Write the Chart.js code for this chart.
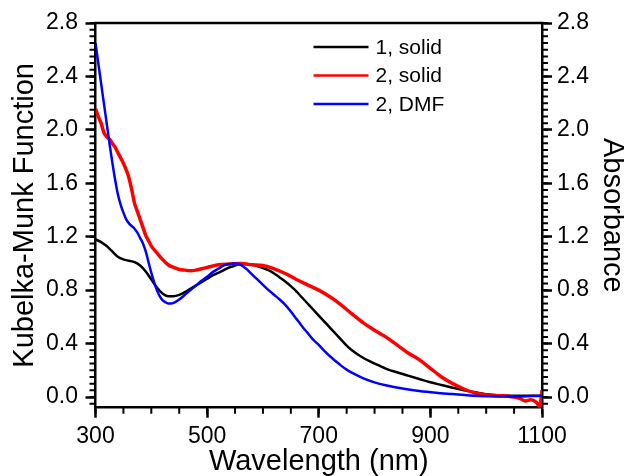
<!DOCTYPE html>
<html>
<head>
<meta charset="utf-8">
<script src="https://cdn.jsdelivr.net/npm/chart.js@4.4.1/dist/chart.umd.min.js"></script>
<style>
  html, body { margin: 0; padding: 0; background: #fff; }
  #wrap { width: 624px; height: 476px; }
</style>
</head>
<body>
<div id="wrap"><canvas id="spectra" width="624" height="476"></canvas></div>
<script>
// 1, solid (Kubelka-Munk)
var wlSolid1 = [300, 310, 320, 330, 340, 350, 360, 370, 380, 390, 400, 410, 420, 430, 440, 450, 460, 470, 480, 490,
  500, 510, 520, 530, 540, 550, 560, 570, 580, 590, 600, 610, 620, 630, 640, 650, 660, 670, 680, 690,
  700, 710, 720, 730, 740, 750, 760, 770, 780, 790, 800, 820, 840, 860, 880, 900, 920, 940, 960, 980,
  1000, 1040, 1100];
var kmSolid1 = [1.18, 1.16, 1.13, 1.09, 1.05, 1.03, 1.02, 1.01, 0.985, 0.94, 0.88, 0.82, 0.775, 0.755, 0.755, 0.765, 0.785, 0.81, 0.835, 0.86,
  0.885, 0.91, 0.93, 0.95, 0.97, 0.985, 0.995, 0.995, 0.99, 0.98, 0.965, 0.95, 0.925, 0.895, 0.865, 0.83, 0.79, 0.745, 0.70, 0.655,
  0.61, 0.565, 0.52, 0.475, 0.43, 0.385, 0.348, 0.318, 0.292, 0.27, 0.25, 0.213, 0.185, 0.16, 0.135, 0.11, 0.09, 0.07, 0.05, 0.035,
  0.02, 0.01, 0.01];

// 2, solid (Kubelka-Munk)
var wlSolid2 = [300, 305, 310, 315, 320, 325, 330, 335, 340, 345, 350, 355, 360, 365, 370, 375, 380, 385, 390, 395,
  400, 410, 420, 430, 440, 450, 460, 470, 480, 490, 500, 520, 540, 560, 580, 600, 620, 640, 660, 680,
  700, 720, 740, 760, 780, 800, 820, 840, 860, 880, 900, 920, 940, 960, 980, 1000, 1020, 1040, 1060, 1070,
  1080, 1090, 1096, 1100];
var kmSolid2 = [2.16, 2.10, 2.05, 1.98, 1.95, 1.93, 1.90, 1.87, 1.83, 1.79, 1.75, 1.70, 1.64, 1.55, 1.45, 1.39, 1.33, 1.27, 1.21, 1.17,
  1.13, 1.08, 1.03, 0.99, 0.97, 0.955, 0.95, 0.945, 0.95, 0.96, 0.97, 0.99, 0.995, 1.0, 0.99, 0.985, 0.96, 0.925, 0.88, 0.84,
  0.80, 0.75, 0.69, 0.62, 0.555, 0.50, 0.45, 0.39, 0.33, 0.28, 0.215, 0.15, 0.10, 0.06, 0.03, 0.015, 0.01, 0.005, -0.01, -0.03,
  -0.02, -0.04, -0.07, 0.05];

// 2, DMF (absorbance)
var wlDmf = [300, 305, 310, 315, 320, 325, 330, 335, 340, 345, 350, 355, 360, 365, 370, 375, 380, 385, 390, 395,
  400, 405, 410, 415, 420, 425, 430, 435, 440, 450, 460, 470, 480, 490, 500, 510, 520, 530, 540, 550,
  560, 570, 580, 590, 600, 610, 620, 630, 640, 650, 660, 670, 680, 690, 700, 710, 720, 730, 740, 750,
  760, 780, 800, 820, 850, 880, 910, 940, 970, 1000, 1050, 1100];
var absDmf = [2.65, 2.50, 2.35, 2.20, 2.05, 1.90, 1.76, 1.63, 1.52, 1.44, 1.38, 1.33, 1.30, 1.28, 1.26, 1.23, 1.19, 1.15, 1.09, 1.01,
  0.93, 0.86, 0.80, 0.755, 0.725, 0.71, 0.70, 0.70, 0.705, 0.73, 0.765, 0.80, 0.835, 0.87, 0.90, 0.935, 0.96, 0.985, 0.995, 1.0,
  0.99, 0.96, 0.92, 0.88, 0.84, 0.80, 0.765, 0.73, 0.69, 0.64, 0.585, 0.53, 0.48, 0.43, 0.39, 0.345, 0.305, 0.27, 0.235, 0.205,
  0.18, 0.14, 0.11, 0.088, 0.063, 0.045, 0.032, 0.022, 0.012, 0.006, 0.003, 0.01];

var seriesNames = ['1, solid', '2, solid', '2, DMF'];
var seriesColors = ['#000000', '#ff0000', '#0000ff'];

var xTicks = [300, 500, 700, 900, 1100];
var yTicks = [0.0, 0.4, 0.8, 1.2, 1.6, 2.0, 2.4, 2.8];

function toPoints(xs, ys) {
  return xs.map(function (x, i) { return { x: x, y: ys[i] }; });
}

Chart.defaults.font.family = "'Liberation Sans', Arial, sans-serif";
Chart.defaults.color = '#000';

// minor ticks + top frame line
var frameTicks = {
  id: 'frameTicks',
  afterDraw: function (chart) {
    var ctx = chart.ctx, a = chart.chartArea;
    var sx = chart.scales.x, sy = chart.scales.y;
    ctx.save();
    ctx.strokeStyle = '#000';
    ctx.lineWidth = 2;
    ctx.beginPath();
    for (var i = 0; i <= 16; i++) {
      var px = sx.getPixelForValue(300 + i * 50);
      ctx.moveTo(px, a.bottom);
      ctx.lineTo(px, a.bottom + 6);
    }
    for (var j = -1; j <= 56; j++) {
      var py = sy.getPixelForValue(j * 0.05);
      if (py > a.bottom + 0.5) continue;
      ctx.moveTo(a.left, py);
      ctx.lineTo(a.left - 6, py);
      ctx.moveTo(a.right, py);
      ctx.lineTo(a.right + 6, py);
    }
    ctx.stroke();
    ctx.lineWidth = 2.5;
    ctx.beginPath();
    ctx.moveTo(a.left - 1.25, a.top);
    ctx.lineTo(a.right + 1.25, a.top);
    ctx.stroke();
    ctx.restore();
  }
};

// legend drawn inside the plot, top right
var lineLegend = {
  id: 'lineLegend',
  afterDraw: function (chart) {
    var ctx = chart.ctx, a = chart.chartArea;
    var x0 = a.left + 218, y0 = a.top + 24;
    ctx.save();
    ctx.font = "21px 'Liberation Sans', Arial, sans-serif";
    ctx.textBaseline = 'middle';
    ctx.textAlign = 'left';
    chart.data.datasets.forEach(function (ds, i) {
      var y = y0 + i * 28.5;
      ctx.strokeStyle = ds.borderColor;
      ctx.lineWidth = 2.5;
      ctx.beginPath();
      ctx.moveTo(x0, y);
      ctx.lineTo(x0 + 55, y);
      ctx.stroke();
      ctx.fillStyle = '#000';
      ctx.fillText(ds.label, x0 + 62, y + 1);
    });
    ctx.restore();
  }
};

function yAxis(pos, title, labelPad, titlePad, titleLh) {
  return {
    type: 'linear',
    position: pos,
    min: -0.08,
    max: 2.8,
    afterBuildTicks: function (s) { s.ticks = yTicks.map(function (v) { return { value: v }; }); },
    afterFit: function (s) { s.width = pos === 'left' ? 95.5 : 82; },
    grid: { drawOnChartArea: false, color: '#000', tickLength: 10, tickWidth: 2.5 },
    border: { color: '#000', width: 2.5 },
    ticks: {
      font: { size: 23 },
      color: '#000',
      padding: labelPad,
      callback: function (v) { return Number(v).toFixed(1); }
    },
    title: { display: true, text: title, color: '#000', font: { size: 29, lineHeight: titleLh }, padding: { top: titlePad, bottom: 0 } }
  };
}

new Chart(document.getElementById('spectra'), {
  type: 'scatter',
  data: {
    datasets: [
      { label: seriesNames[0], data: toPoints(wlSolid1, kmSolid1), borderColor: seriesColors[0], backgroundColor: seriesColors[0], borderWidth: 2.5, order: 3 },
      { label: seriesNames[1], data: toPoints(wlSolid2, kmSolid2), borderColor: seriesColors[1], backgroundColor: seriesColors[1], borderWidth: 3.5, order: 2 },
      { label: seriesNames[2], data: toPoints(wlDmf, absDmf), borderColor: seriesColors[2], backgroundColor: seriesColors[2], borderWidth: 2.5, order: 1 }
    ]
  },
  options: {
    responsive: false,
    animation: false,
    devicePixelRatio: 1,
    layout: { padding: { top: 23, left: 0, right: 0, bottom: 0 } },
    datasets: {
      scatter: { showLine: true, pointRadius: 0, cubicInterpolationMode: 'monotone' }
    },
    plugins: {
      legend: { display: false },
      tooltip: { enabled: false }
    },
    scales: {
      x: {
        type: 'linear',
        min: 300,
        max: 1100,
        afterBuildTicks: function (s) { s.ticks = xTicks.map(function (v) { return { value: v }; }); },
        afterFit: function (s) { s.height = 68.3; },
        grid: { drawOnChartArea: false, color: '#000', tickLength: 10, tickWidth: 2.5 },
        border: { color: '#000', width: 2.5 },
        ticks: { font: { size: 23 }, color: '#000', padding: 5, maxRotation: 0, callback: function (v) { return String(v); } },
        title: { display: true, text: 'Wavelength (nm)', color: '#000', font: { size: 29, lineHeight: 1 }, padding: { top: 0, bottom: 0 } }
      },
      y: yAxis('left', 'Kubelka-Munk Function', 7.5, 10.5, 1),
      y2: yAxis('right', 'Absorbance', 5, 0, 0.8)
    }
  },
  plugins: [frameTicks, lineLegend]
});
</script>
</body>
</html>
